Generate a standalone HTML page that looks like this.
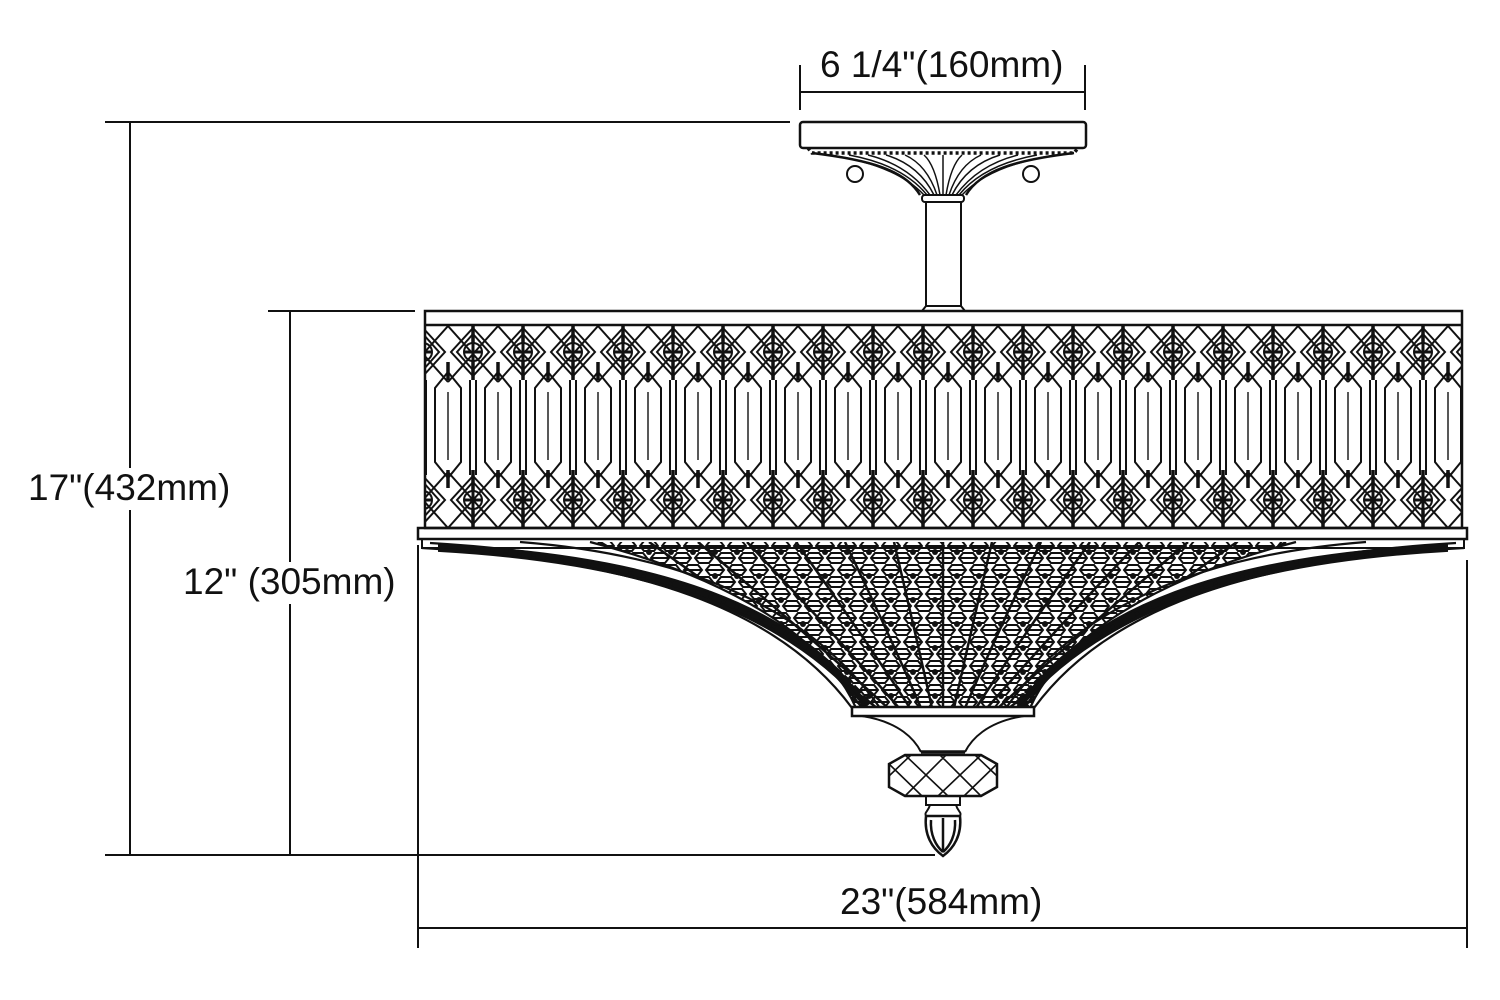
<!DOCTYPE html>
<html><head><meta charset="utf-8"><style>
html,body{margin:0;padding:0;background:#fff;}
svg{display:block}
text{font-family:"Liberation Sans",sans-serif;font-size:37px;fill:#111}
</style></head><body>
<svg width="1500" height="1000" viewBox="0 0 1500 1000" xmlns="http://www.w3.org/2000/svg">
<defs>
<pattern id="band" x="448" y="0" width="50" height="1000" patternUnits="userSpaceOnUse">
 <g fill="none" stroke="#111" stroke-width="2">
  <path d="M25,328 L47,352 L25,376 L3,352 Z"/>
  <path d="M25,334 L41,352 L25,370 L9,352 Z"/>
  <circle cx="25" cy="352" r="9"/>
  <path d="M25,343 V361 M16,352 H34" stroke-width="3"/>
  <path d="M25,325 V343 M25,361 V380" stroke-width="3.5"/>
  <path d="M0,326 L50,382 M50,326 L0,382"/>
  <path d="M22,380 V475 M28,380 V475"/>
  <path d="M0,372 L13,388 L13,462 L0,478 L-13,462 L-13,388 Z M50,372 L63,388 L63,462 L50,478 L37,462 L37,388 Z"/>
  <path d="M0,392 V460 M50,392 V460" stroke-width="1.4"/>
  <path d="M0,362 V380 M50,362 V380 M0,470 V488 M50,470 V488" stroke-width="3.5"/>
  <path d="M25,476 L47,500 L25,524 L3,500 Z"/>
  <path d="M25,482 L41,500 L25,518 L9,500 Z"/>
  <circle cx="25" cy="500" r="9"/>
  <path d="M25,491 V509 M16,500 H34" stroke-width="3"/>
  <path d="M25,470 V491 M25,509 V528" stroke-width="3.5"/>
  <path d="M0,472 L50,528 M50,472 L0,528"/>
 </g>
</pattern>
<pattern id="hex" x="0" y="540" width="22" height="24" patternUnits="userSpaceOnUse">
 <g fill="none" stroke="#111" stroke-width="2">
  <path d="M2,6 L6,1 L16,1 L20,6 L16,11 L6,11 Z M2,6 H20"/>
  <path d="M-9,18 L-5,13 L5,13 L9,18 L5,23 L-5,23 Z M13,18 L17,13 L27,13 L31,18 L27,23 L17,23 Z M-9,18 H9 M13,18 H31"/>
 </g>
 <circle cx="11" cy="12" r="3" fill="#111"/>
</pattern>
<clipPath id="bowlclip"><path d="M590,542 L1296,542 C1150,580 1060,640 1030,708 L856,708 C826,640 736,580 590,542 Z"/></clipPath>
</defs>

<g fill="none" stroke="#111" stroke-width="2">
 <path d="M105,122 H790 M130,122 V468 M130,510 V855 M105,855 H935"/>
 <path d="M268,311 H415 M290,311 V562 M290,604 V855"/>
 <path d="M800,65 V110 M1085,65 V110 M800,92 H1085"/>
 <path d="M418,545 V948 M1467,560 V948 M418,928 H1467"/>

 <rect x="800" y="122" width="286" height="26" rx="3" stroke-width="2.5"/>
 <path d="M808,148 L812,153 H1074 L1078,148" stroke-width="3.5" stroke-dasharray="3,3"/>
 <path d="M812,153 C870,160 905,170 920,195 M1074,153 C1016,160 981,170 966,195" stroke-width="2.5"/>
 <g stroke-width="1.5">
  <path d="M830,155 Q896,165 924,195"/><path d="M849,155 Q903,165 927,195"/>
  <path d="M868,155 Q908,165 930,195"/><path d="M886,155 Q919,165 934,195"/>
  <path d="M905,155 Q927,165 937,195"/><path d="M924,155 Q935,165 940,195"/>
  <path d="M943,155 V195"/><path d="M962,155 Q951,165 946,195"/>
  <path d="M981,155 Q959,165 949,195"/><path d="M1000,155 Q967,165 952,195"/>
  <path d="M1018,155 Q978,165 956,195"/><path d="M1037,155 Q983,165 959,195"/>
  <path d="M1056,155 Q990,165 962,195"/>
 </g>
 <circle cx="855" cy="174" r="8"/><circle cx="1031" cy="174" r="8"/>
 <rect x="922" y="195" width="42" height="7" rx="3"/>
 <path d="M926,202 V306 M961,202 V306"/>
 <path d="M922,311 L926,306 H961 L965,311"/>

 <rect x="425" y="311" width="1037" height="217" fill="url(#band)" stroke-width="2.5"/>
 <path d="M425,325 H1462" stroke-width="2.5"/>
 <rect x="418" y="528" width="1049" height="11" stroke-width="2.5"/>
 <path d="M422,539 V548 H1464 V539"/>

 <g clip-path="url(#bowlclip)">
  <rect x="580" y="540" width="730" height="170" fill="url(#hex)" stroke="none"/>
  <g stroke-width="2.5">
   <path d="M600,542 Q763,640 866,708"/><path d="M649,542 Q789,640 877,708"/>
   <path d="M698,542 Q814,640 888,708"/><path d="M747,542 Q840,640 899,708"/>
   <path d="M796,542 Q866,640 910,708"/><path d="M845,542 Q892,640 921,708"/>
   <path d="M894,542 Q917,640 932,708"/><path d="M943,542 V708"/>
   <path d="M992,542 Q969,640 954,708"/><path d="M1041,542 Q994,640 965,708"/>
   <path d="M1090,542 Q1020,640 976,708"/><path d="M1139,542 Q1046,640 987,708"/>
   <path d="M1188,542 Q1072,640 998,708"/><path d="M1237,542 Q1097,640 1009,708"/>
   <path d="M1286,542 Q1123,640 1020,708"/>
  </g>
 </g>

 <g stroke-width="2.2">
  <path d="M422,548 C640,560 780,610 852,708"/>
  <path d="M430,543 C650,556 790,606 862,708"/>
  <path d="M520,542 C700,556 815,615 880,708"/>
  <path d="M590,542 C736,580 826,640 856,708"/>
  <path d="M1464,548 C1246,560 1106,610 1034,708"/>
  <path d="M1456,543 C1236,556 1096,606 1024,708"/>
  <path d="M1366,542 C1186,556 1071,615 1006,708"/>
  <path d="M1296,542 C1150,580 1060,640 1030,708"/>
 </g>
 <path d="M440,550 C650,562 785,612 866,706 C800,608 660,556 440,546Z" fill="#111" stroke-width="4"/>
 <path d="M1446,550 C1236,562 1101,612 1020,706 C1086,608 1226,556 1446,546Z" fill="#111" stroke-width="4"/>
 <path d="M480,550 C680,565 800,620 872,708 M1406,550 C1206,565 1086,620 1014,708" stroke-width="6" stroke-dasharray="10,4"/>

 <rect x="852" y="707" width="182" height="9" stroke-width="2.5" fill="#fff"/>
 <path d="M862,716 C900,722 915,740 921,752 M1024,716 C986,722 971,740 965,752"/>
 <path d="M921,752 H965" stroke-width="3.5"/>
 <path d="M905,755 H981 L997,764 V787 L981,796 H905 L889,787 V764 Z" stroke-width="2.5"/>
 <path d="M889,764 L922,796 M905,755 L948,796 M940,755 L981,796 M975,755 L997,776 M997,764 L964,796 M981,755 L938,796 M946,755 L905,796 M911,755 L889,776" stroke-width="1.6"/>
 <rect x="926" y="796" width="34" height="9"/>
 <path d="M930,805 C928,812 924,812 926,816 H960 C962,812 958,812 956,805"/>
 <path d="M926,816 C924,835 932,848 943,856 C954,848 962,835 960,816 Z" stroke-width="2.5"/>
 <path d="M931,820 C930,835 936,846 943,852 M955,820 C956,835 950,846 943,852 M943,818 V852" stroke-width="2.5"/>
</g>

<text x="820" y="77">6 1/4"(160mm)</text>
<text x="28" y="500">17"(432mm)</text>
<text x="183" y="594">12" (305mm)</text>
<text x="840" y="914">23"(584mm)</text>
</svg>
</body></html>
